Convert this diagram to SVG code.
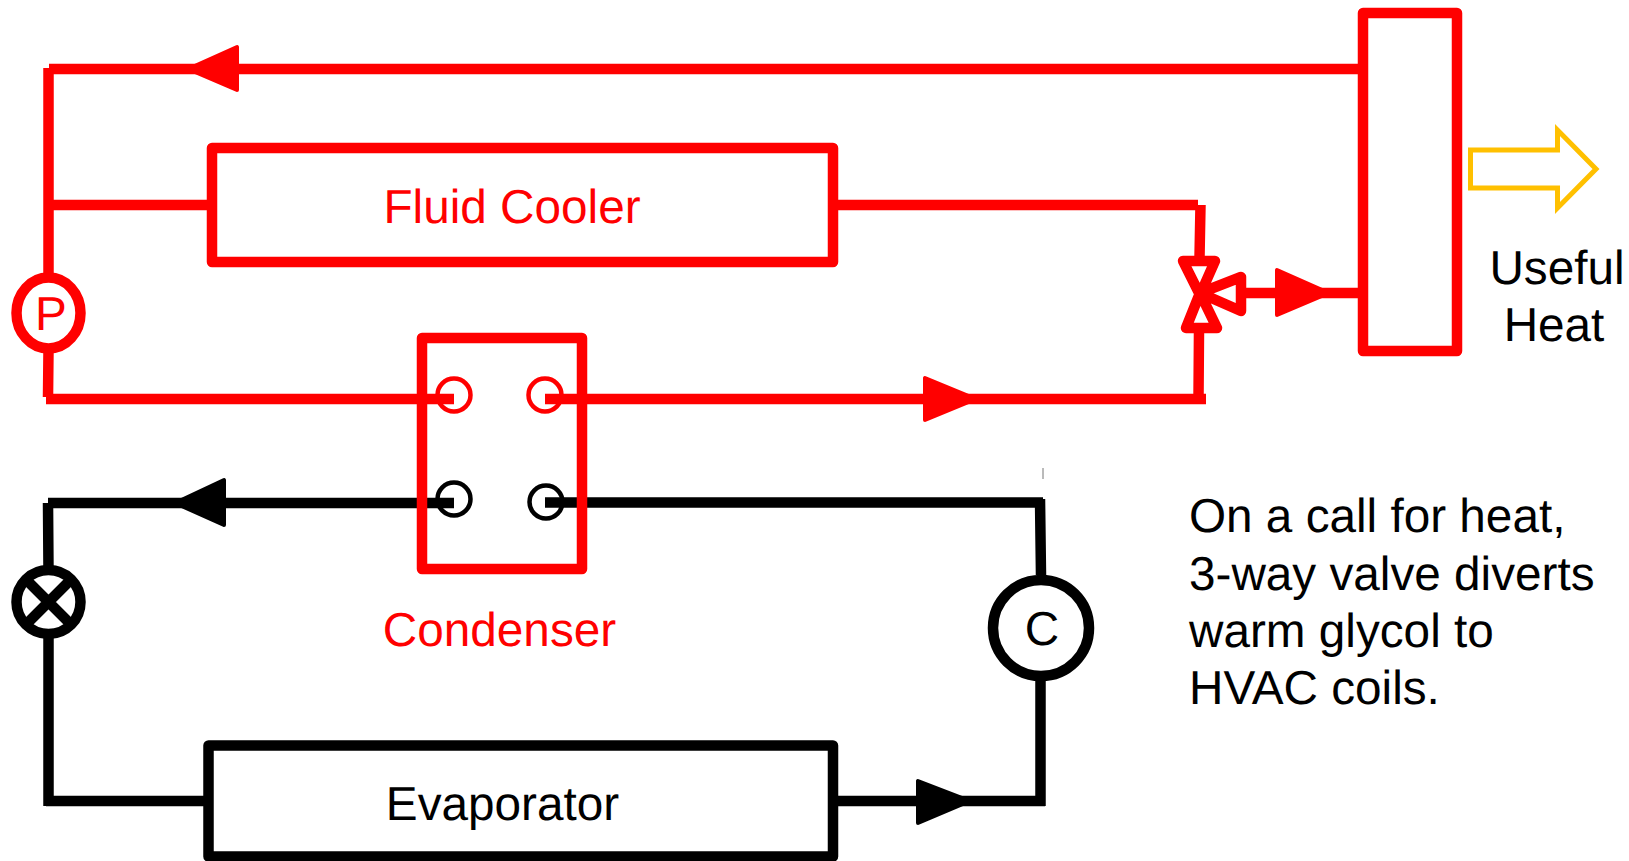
<svg xmlns="http://www.w3.org/2000/svg" width="1629" height="861" viewBox="0 0 1629 861">
<style>
text{font-family:"Liberation Sans",Arial,sans-serif;font-size:47.7px;text-rendering:geometricPrecision}
.r{fill:#f00}.k{fill:#000}
.rs{fill:none;stroke:#f00;stroke-width:10.5;stroke-linejoin:round}
.ks{fill:none;stroke:#000;stroke-width:10.5;stroke-linejoin:round}
.ah{stroke-width:4;stroke-linejoin:round}
</style>
<rect width="1629" height="861" fill="#fff"/>
<g id="connectors">
<path class="rs" style="stroke-linejoin:miter" d="M1361 69H49M48.500 68V280M49 205H212M833 205H1198M1200.500 205L1199.500 258M1199 330L1198.500 398M1206 399H545M454 399H46M48 397L48.500 350M1361 293H1246"/>
<path class="ks" style="stroke-linejoin:miter" d="M454 503H48M48 503L48.500 570M48.500 635V806M46 801H209M833 801H1045M1040.500 806V680M1041 575L1040 499M1043 502.500H545"/>
<polygon class="r ah" stroke="#f00" points="188,69 237,47 237,90"/>
<polygon class="r ah" stroke="#f00" points="976,399 925,378 925,420"/>
<polygon class="r ah" stroke="#f00" points="1329,293 1277,270 1277,315"/>
<polygon class="k ah" stroke="#000" points="175,503 224,480 224,525"/>
<polygon class="k ah" stroke="#000" points="970,801 918,781 918,823"/>
<path d="M1043 468V479" stroke="#777" stroke-width="1" fill="none"/>
</g>
<g id="tank"><rect class="rs" x="1363" y="13" width="94" height="338"/></g>
<g id="fluid-cooler"><rect class="rs" x="212" y="148" width="621" height="114"/><text class="r" x="512" y="223" text-anchor="middle">Fluid Cooler</text></g>
<g id="valve"><path class="rs" d="M1183 261H1215L1200 295ZM1186 328H1217L1200 293ZM1200 293L1241 277V311Z"/></g>
<g id="pump"><ellipse cx="48.500" cy="313" rx="32" ry="35.500" fill="#fff" stroke="#f00" stroke-width="10.500"/><text class="r" x="51" y="330" text-anchor="middle">P</text></g>
<g id="condenser"><rect class="rs" x="422" y="338" width="160" height="231"/>
<circle cx="454" cy="395" r="16.500" fill="none" stroke="#f00" stroke-width="4.500"/>
<circle cx="545" cy="395" r="16.500" fill="none" stroke="#f00" stroke-width="4.500"/>
<circle cx="454" cy="499" r="16.500" fill="none" stroke="#000" stroke-width="4.500"/>
<circle cx="546" cy="502" r="16.500" fill="none" stroke="#000" stroke-width="4.500"/>
<text class="r" x="499.500" y="646" text-anchor="middle">Condenser</text></g>
<g id="expansion-valve"><circle cx="48.500" cy="602" r="32" fill="#fff" stroke="#000" stroke-width="10.500"/><path class="ks" d="M26 579.500L71 624.500M71 579.500L26 624.500"/></g>
<g id="compressor"><circle cx="1041" cy="628" r="48" fill="#fff" stroke="#000" stroke-width="10.500"/><text class="k" x="1042" y="645" text-anchor="middle">C</text></g>
<g id="evaporator"><rect class="ks" x="208.500" y="745.500" width="624.500" height="111"/><text class="k" x="502.500" y="820" text-anchor="middle">Evaporator</text></g>
<g id="heat-arrow"><path d="M1470.500 150H1557.500V130L1596 169L1557.500 208V188H1470.500Z" fill="none" stroke="#ffc000" stroke-width="5"/></g>
<g id="labels">
<text class="k" x="1557" y="284" text-anchor="middle">Useful</text>
<text class="k" x="1554" y="341" text-anchor="middle">Heat</text>
<text class="k" x="1189" y="532">On a call for heat,</text>
<text class="k" x="1189" y="590">3-way valve diverts</text>
<text class="k" x="1189" y="647">warm glycol to</text>
<text class="k" x="1189" y="704">HVAC coils.</text>
</g>
</svg>
